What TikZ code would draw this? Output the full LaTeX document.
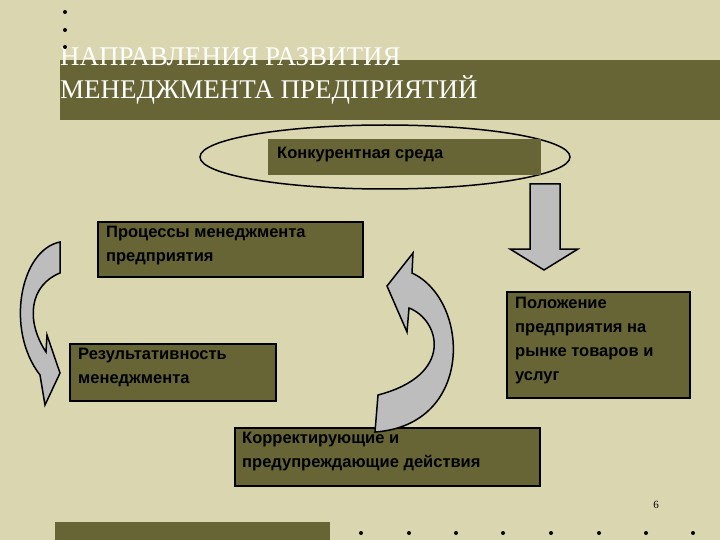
\documentclass[tikz,border=0pt]{standalone}
\usepackage{fontspec}
\setmainfont{Liberation Serif}
\setsansfont{Liberation Sans}
\begin{document}
\begin{tikzpicture}[x=1pt,y=-1pt,
  bx/.style={draw=black,line width=1.5pt,fill=olivebox},
  tx/.style={anchor=north west,align=left,font=\sffamily\bfseries\fontsize{16.5}{24}\selectfont,inner sep=0pt},
  arr/.style={draw=black,line width=1.5pt,fill=arrgray,line join=miter},
  dot/.style={circle,fill=black,inner sep=0pt,minimum size=4pt}]
\definecolor{bgc}{HTML}{D9D6B0}
\definecolor{olivebox}{HTML}{676535}
\definecolor{arrgray}{HTML}{BDBDBD}
\useasboundingbox (0,0) rectangle (720,540);
\fill[bgc] (0,0) rectangle (720,540);
% title
\fill[olivebox] (60,60) rectangle (720,120);
\node[anchor=north west,inner sep=0pt,align=left,text=white,font=\fontsize{27}{33}\selectfont] (title) at (60,47) {НАПРАВЛЕНИЯ РАЗВИТИЯ\\МЕНЕДЖМЕНТА ПРЕДПРИЯТИЙ};
\foreach \y [count=\i] in {12,30,47} \node[dot] (td\i) at (65,\y) {};
% ellipse and box
\draw[line width=1.5pt] (385,157) ellipse [x radius=185,y radius=32];
\fill[olivebox] (268,139) rectangle (541,175);
\node[tx] (konk) at (277,147) {Конкурентная среда};
% down arrow
\draw[arr] (530,184) -- (560,184) -- (560,249) -- (578,249) -- (544,270) -- (510,249) -- (530,249) -- cycle;
% boxes
\draw[bx] (98,222) rectangle (363,277);
\node[tx] (proc) at (106,226) {Процессы менеджмента\\предприятия};
\draw[bx] (70,344) rectangle (276,401);
\node[tx] (res) at (78,348) {Результативность\\менеджмента};
\draw[bx] (507,292) rectangle (690,398);
\node[tx] (pol) at (515,297) {Положение\\предприятия на\\рынке товаров и\\услуг};
\draw[bx] (235,428) rectangle (540,486);
\node[tx] (korr) at (242,432) {Корректирующие и\\предупреждающие действия};
% curved arrows
\draw[arr] (60,242) .. controls (20,250) and (5,330) .. (40,375) -- (45,405) -- (60,373) -- (47,335) -- (46,352) .. controls (25,320) and (30,285) .. (60,273) -- cycle;
\draw[arr] (413,253) -- (387,286) -- (407,332) -- (409,308) .. controls (440,320) and (455,375) .. (378,395) -- (375,432) .. controls (475,425) and (470,300) .. (412,273) -- cycle;
% page number and footer
\node[font=\fontsize{11}{13}\selectfont] (pn) at (656,505) {6};
\fill[olivebox] (55,522) rectangle (330,540);
\foreach \x [count=\i] in {361,409,456,503,551,599,646,693} \node[dot] (bd\i) at (\x,533) {};
\end{tikzpicture}
\end{document}
